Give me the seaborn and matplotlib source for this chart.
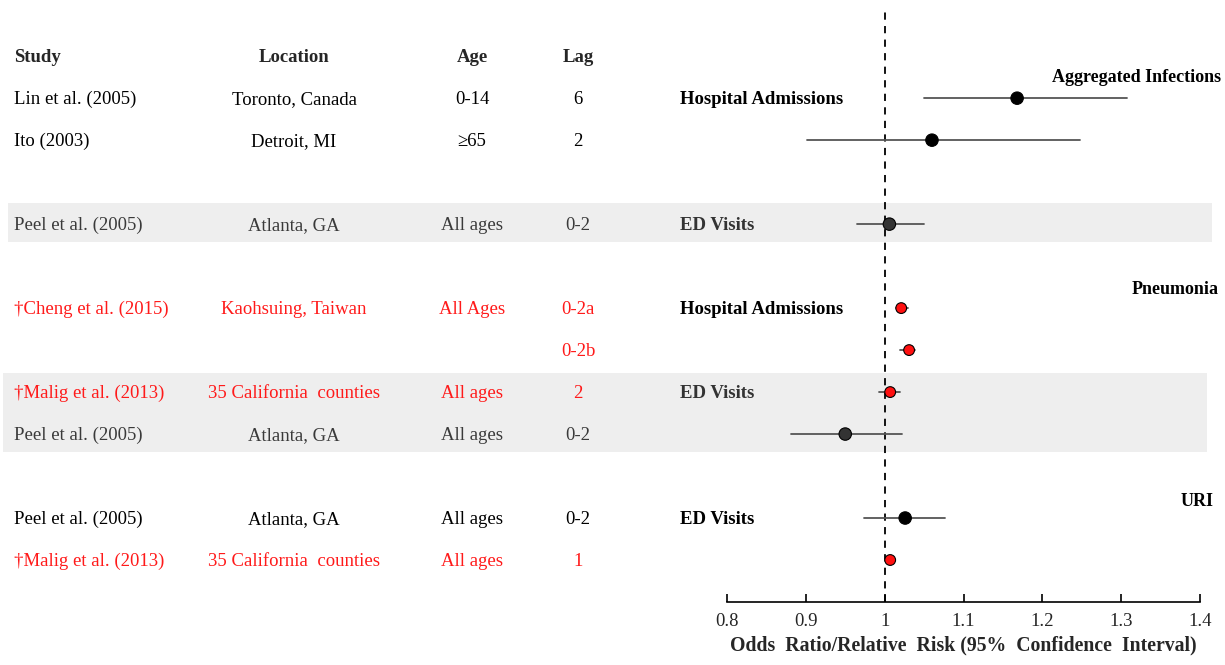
import numpy as np
import pandas as pd
import matplotlib
matplotlib.use('Agg')
import matplotlib.pyplot as plt
import matplotlib.transforms as mtransforms
from matplotlib.patches import Rectangle
import seaborn as sns

# 数据
studies = ['Lin et al. (2005)', 'Ito (2003)', 'Peel et al. (2005)', '†Cheng et al. (2015)', '',
           '†Malig et al. (2013)', 'Peel et al. (2005)', 'Peel et al. (2005)', '†Malig et al. (2013)']
locations = ['Toronto, Canada', 'Detroit, MI', 'Atlanta, GA', 'Kaohsuing, Taiwan', '',
             '35 California  counties', 'Atlanta, GA', 'Atlanta, GA', '35 California  counties']
ages = ['0-14', '≥65', 'All ages', 'All Ages', '', 'All ages', 'All ages', 'All ages', 'All ages']
lags = ['6', '2', '0-2', '0-2a', '0-2b', '2', '0-2', '0-2', '1']
rows = [1, 2, 4, 6, 7, 8, 9, 11, 12]
estimate = [1.168, 1.060, 1.006, 1.021, 1.031, 1.007, 0.950, 1.026, 1.007]
ci_low = [1.050, 0.901, 0.965, 1.014, 1.020, 0.993, 0.881, 0.974, 1.001]
ci_high = [1.308, 1.248, 1.050, 1.029, 1.038, 1.020, 1.022, 1.077, 1.012]
kind = ['plain', 'plain', 'band', 'new', 'new', 'new', 'band', 'plain', 'new']

outcome_labels = ['Hospital Admissions', 'ED Visits', 'Hospital Admissions', 'ED Visits', 'ED Visits']
outcome_rows = [1, 4, 6, 8, 11]
category_labels = ['Aggregated Infections', 'Pneumonia', 'URI']
category_rows = [0.5, 5.55, 10.6]
band_rows = [(3.5, 4.42, 0.0065, 0.989), (7.55, 9.42, 0.0025, 0.985)]

headers = ['Study', 'Location', 'Age', 'Lag']
xticks = [0.8, 0.9, 1, 1.1, 1.2, 1.3, 1.4]

df = pd.DataFrame({'row': rows, 'est': estimate, 'lo': ci_low, 'hi': ci_high, 'kind': kind})

sns.set_theme(style='white')
plt.rcParams['font.family'] = ['Liberation Serif', 'DejaVu Serif']

text_color = {'plain': 'black', 'band': '#3a3a3a', 'new': '#ff1a1a'}
dot_color = {'plain': 'black', 'band': '#333333', 'new': '#ff1010'}

fig = plt.figure(figsize=(12.25, 6.65), dpi=100)
ax = fig.add_axes([727 / 1225, 1 - 602 / 665, 473 / 1225, 592 / 665])
ax.patch.set_alpha(0)
trans = mtransforms.blended_transform_factory(fig.transFigure, ax.transData)

# 灰色背景条
for y0, y1, x0, x1 in band_rows:
    ax.add_patch(Rectangle((x0, y0), x1 - x0, y1 - y0, transform=trans,
                           facecolor='#eeeeee', edgecolor='none', clip_on=False, zorder=0))

# 置信区间
for _, r in df.iterrows():
    ax.plot([r['lo'], r['hi']], [r['row'], r['row']], color='#555555', lw=1.3, zorder=2)

# 点估计
sizes = {'plain': 80, 'band': 80, 'new': 60}
sns.scatterplot(data=df, x='est', y='row', hue='kind', palette=dot_color, size='kind', sizes=sizes,
                edgecolor='black', linewidth=0.8, legend=False, zorder=3, ax=ax)

ax.axvline(1, color='black', ls=(0, (4, 3.5)), lw=1.3, zorder=1)

ax.set_xlim(0.8, 1.4)
ax.set_ylim(13.0, -1.1)
ax.set_xticks(xticks)
ax.set_xticklabels(['0.8', '0.9', '1', '1.1', '1.2', '1.3', '1.4'], fontsize=13.5)
ax.set_yticks([])
ax.set_ylabel('')
ax.set_xlabel('Odds  Ratio/Relative  Risk (95%  Confidence  Interval)', fontsize=14.2,
              fontweight='bold', labelpad=4)
for s in ['top', 'right', 'left']:
    ax.spines[s].set_visible(False)
ax.spines['bottom'].set_color('black')
ax.spines['bottom'].set_linewidth(1.2)
ax.tick_params(axis='x', direction='in', length=6, width=1.2, color='black', pad=8, bottom=True)

# 表格文字
fs = 13.5
yoff = 0.03
hx = [(0.0114, 'left'), (294 / 1225, 'center'), (472 / 1225, 'center'), (578 / 1225, 'center')]
for (x, ha), h in zip(hx, headers):
    ax.text(x, 0 + yoff, h, transform=trans, ha=ha, va='center', fontsize=fs, fontweight='bold', clip_on=False)

for i in range(len(rows)):
    c = text_color[kind[i]]
    for (x, ha), t in zip(hx, [studies[i], locations[i], ages[i], lags[i]]):
        if t:
            ax.text(x, rows[i] + yoff, t, transform=trans, ha=ha, va='center', fontsize=fs,
                    color=c, clip_on=False)

for t, r in zip(outcome_labels, outcome_rows):
    c = '#333333' if t == 'ED Visits' and r in (4, 8) else 'black'
    ax.text(680 / 1225, r + yoff, t, transform=trans, ha='left', va='center', fontsize=fs,
            fontweight='bold', color=c, clip_on=False)

for t, r, x in zip(category_labels, category_rows, [0.997, 0.995, 0.991]):
    ax.text(x, r, t, transform=trans, ha='right', va='center', fontsize=13,
            fontweight='bold', color='black', clip_on=False)

plt.savefig('out.png', dpi=100)
